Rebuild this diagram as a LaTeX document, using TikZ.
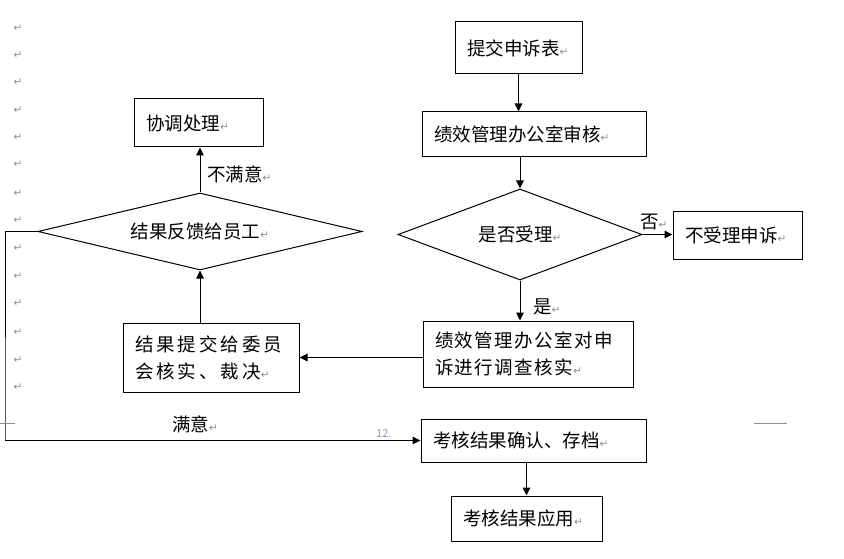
\documentclass[tikz,border=0pt]{standalone}
\usepackage{fontspec}
\setmainfont{Noto Sans CJK SC}
\newfontfamily\symfont{DejaVu Sans}
\usetikzlibrary{shapes.geometric,arrows.meta}
\definecolor{markgray}{HTML}{8C8C8C}
\definecolor{pagenum}{HTML}{8A9AB8}
\newcommand\crmark{{\symfont\fontsize{10.5}{10.5}\selectfont\color{markgray}↵}}
\begin{document}
\begin{tikzpicture}[x=1pt,y=-1pt,
  every node/.style={font=\fontsize{18.5}{27}\selectfont},
  box/.style={draw, line width=1pt, inner xsep=12pt, inner ysep=0pt, align=left, anchor=center},
  dia/.style={draw, diamond, line width=1pt, inner sep=0pt, aspect=4},
  arr/.style={line width=1pt, -{Triangle[length=8pt,width=7.5pt]}},
  lab/.style={inner sep=0pt, anchor=west},
  marg/.style={draw=markgray, line width=0.8pt}]

\useasboundingbox (0,0) rectangle (844,559);

% boxes
\node[box, text width=103pt, minimum height=52pt] (a) at (518.5,48) {提交申诉表\crmark};
\node[box, text width=200pt, minimum height=45pt] (b) at (534,134.5) {绩效管理办公室审核\crmark};
\node[dia, minimum width=244pt, minimum height=91pt] (c) at (520,234.5) {是否受理\crmark};
\node[box, text width=105pt, minimum height=47pt] (d) at (737.5,235.5) {不受理申诉\crmark};
\node[box, text width=186pt, minimum height=66pt] (e) at (528,354) {\addfontfeature{LetterSpace=8}绩效管理办公室对申\\\addfontfeature{LetterSpace=8}诉进行调查核实\crmark};
\node[box, text width=152pt, minimum height=69pt] (f) at (211,357.5) {\addfontfeature{LetterSpace=16}结果提交给委员\\\addfontfeature{LetterSpace=16}会核实、裁决\crmark};
\node[box, text width=105pt, minimum height=48pt] (g) at (198.5,123) {协调处理\crmark};
\node[dia, minimum width=324pt, minimum height=77pt] (h) at (200,231.5) {结果反馈给员工\crmark};
\node[box, text width=201pt, minimum height=43pt] (i) at (533.5,440.5) {考核结果确认、存档\crmark};
\node[box, text width=127pt, minimum height=45pt] (j) at (526.5,518.5) {考核结果应用\crmark};

% connectors
\draw[arr] (a.south) -- (a.south |- b.north);
\draw[arr] (c.north |- b.south) -- (c.north);
\draw[arr] (c.east) -- (c.east -| d.west);
\draw[arr] (c.south) -- (c.south |- e.north);
\draw[arr] (f.east -| e.west) -- (f.east);
\draw[arr] (h.south |- f.north) -- (h.south);
\draw[arr] (h.north) -- (h.north |- g.south);
\coordinate (k2) at (5,441);
\draw[arr] (h.west) -| (k2) |- (i.west);
\draw[arr] (j.north |- i.south) -- (j.north);

% labels
\node[lab] (lno) at (640,222) {否\crmark};
\node[lab] (lyes) at (533,307) {是\crmark};
\node[lab] (lbad) at (207,174) {不满意\crmark};
\node[lab] (lok) at (172,424) {满意\crmark};
\node[lab, font=\fontsize{11}{11}\selectfont, text=pagenum] (pg) at (376,434) {12.};

% margin marks
\foreach \yy [count=\n] in {28,55,82,110,137,164,193,220,248,276,303,332,360,387}
  \node[inner sep=0pt] (m\n) at (18,\yy) {\crmark};
\coordinate (ml1) at (0,423); \coordinate (ml2) at (15,423);
\coordinate (mr1) at (754,423); \coordinate (mr2) at (787,423);
\draw[marg] (ml1) -- (ml2);
\draw[marg] (mr1) -- (mr2);
\end{tikzpicture}
\end{document}
